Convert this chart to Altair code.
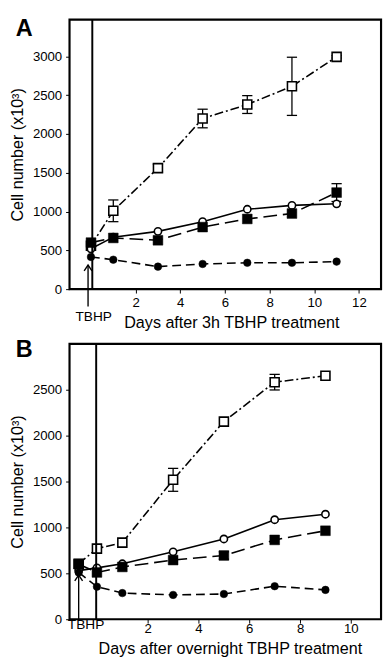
import altair as alt
import pandas as pd

# ---------------- data ----------------
a_days = [0, 1, 3, 5, 7, 9, 11]
a_open_sq = [560, 1010, 1560, 2200, 2380, 2615, 2995]
a_open_sq_err = [0, 140, 50, 120, 115, 375, 15]
a_open_circ = [520, 670, 745, 870, 1030, 1080, 1100]
a_open_circ_err = [0, 0, 0, 0, 0, 0, 0]
a_fill_sq = [600, 660, 630, 800, 905, 975, 1245]
a_fill_sq_err = [0, 0, 0, 0, 0, 0, 115]
a_fill_circ = [415, 380, 290, 325, 340, 340, 355]
a_fill_circ_err = [0, 0, 0, 0, 0, 0, 0]

b_days = [-0.72, 0, 1, 3, 5, 7, 9]
b_open_sq = [605, 770, 835, 1520, 2155, 2585, 2655]
b_open_sq_err = [0, 0, 0, 125, 0, 85, 0]
b_open_circ = [530, 560, 605, 735, 875, 1085, 1145]
b_open_circ_err = [0, 0, 0, 0, 0, 0, 0]
b_fill_sq = [600, 510, 570, 645, 695, 865, 965]
b_fill_sq_err = [0, 0, 0, 0, 40, 0, 0]
b_fill_circ = [510, 355, 285, 265, 275, 360, 320]
b_fill_circ_err = [0, 0, 0, 0, 0, 0, 0]

a_xticks = [2, 4, 6, 8, 10, 12]
b_xticks = [2, 4, 6, 8, 10]
a_yticks = [0, 500, 1000, 1500, 2000, 2500, 3000]
b_yticks = [0, 500, 1000, 1500, 2000, 2500]

FONT = "Liberation Sans"

STYLES = [
    # (shape, filled, size, dash)
    ("square", False, 85, [9, 3, 2, 3]),
    ("circle", False, 55, None),
    ("square", True, 100, [14, 6]),
    ("circle", True, 60, [9, 5]),
]


def panel(days, series, errs, xdom, ydom, height, xticks, yticks,
          xtitle, tx, ty, letter, letter_y, vline_x, arrow_x, arrow_top,
          arrow_bottom, tbhp_x, tbhp_y, xlabpad):
    xaxis = alt.Axis(values=xticks, format="d", grid=False, domain=False,
                     ticks=True, tickSize=4, tickColor="black",
                     labelPadding=xlabpad, labelFontSize=13.5,
                     labelColor="black", labelFont=FONT,
                     title=xtitle, titleFont=FONT, titleFontSize=16.5,
                     titleFontWeight="normal", titleColor="black",
                     titleX=tx, titleY=ty, titleAlign="center",
                     titleBaseline="alphabetic", titleAnchor="start")
    yaxis = alt.Axis(values=yticks, format="d", grid=False, domain=False,
                     ticks=True, tickSize=4, tickColor="black",
                     labelPadding=4, labelFontSize=13.5, labelColor="black",
                     labelFont=FONT, title="Cell number (x10³)",
                     titleFont=FONT, titleFontSize=16.5,
                     titleFontWeight="normal", titleColor="black",
                     titleX=-53, titleBaseline="middle")
    xs = alt.Scale(domain=xdom, nice=False, zero=False)
    ys = alt.Scale(domain=ydom, nice=False, zero=False)

    def X(f):
        return alt.X(f, type="quantitative", scale=xs, axis=xaxis)

    def Y(f):
        return alt.Y(f, type="quantitative", scale=ys, axis=yaxis)

    layers = []
    for (shape, filled, size, dash), vals, err in zip(STYLES, series, errs):
        df = pd.DataFrame({"x": days, "y": vals, "e": err})
        df["lo"] = df["y"] - df["e"]
        df["hi"] = df["y"] + df["e"]
        base = alt.Chart(df)
        lk = dict(color="black", strokeWidth=1.6)
        if dash:
            lk["strokeDash"] = dash
        layers.append(base.mark_line(**lk).encode(x=X("x"), y=Y("y")))
        edf = df[df["e"] > 0]
        if len(edf):
            eb = alt.Chart(edf)
            layers.append(eb.mark_rule(color="black", strokeWidth=1.3)
                          .encode(x=X("x"), y=Y("lo"), y2="hi"))
            for f in ("lo", "hi"):
                layers.append(eb.mark_point(shape="M-1,0L1,0", size=110,
                                            filled=False, color="black",
                                            strokeWidth=1.3, opacity=1)
                              .encode(x=X("x"), y=Y(f)))
    for (shape, filled, size, dash), vals in zip(STYLES, series):
        df = pd.DataFrame({"x": days, "y": vals})
        layers.append(alt.Chart(df).mark_point(
            shape=shape, size=size, filled=True,
            fill="black" if filled else "white", stroke="black",
            strokeWidth=1.6 if not filled else 0.5, opacity=1)
            .encode(x=X("x"), y=Y("y")))

    # vertical line at treatment end
    layers.append(alt.Chart().mark_rule(color="black", strokeWidth=2)
                  .encode(x=alt.datum(vline_x)))
    # arrow
    layers.append(alt.Chart().mark_rule(color="black", strokeWidth=1.4)
                  .encode(x=alt.datum(arrow_x), y=alt.datum(arrow_top),
                          y2=alt.datum(arrow_bottom)))
    layers.append(alt.Chart().mark_point(shape="M-1,1.5L0,0L1,1.5",
                                         size=64, filled=False,
                                         color="black", strokeWidth=1.4,
                                         opacity=1)
                  .encode(x=alt.datum(arrow_x), y=alt.datum(arrow_top)))
    # TBHP label
    layers.append(alt.Chart().mark_text(text="TBHP", font=FONT, fontSize=14,
                                        color="black", align="center",
                                        baseline="alphabetic")
                  .encode(x=alt.datum(tbhp_x), y=alt.datum(tbhp_y)))
    # panel letter
    layers.append(alt.Chart().mark_text(text=letter, font=FONT, fontSize=24,
                                        fontWeight="bold", color="black",
                                        align="left", baseline="alphabetic")
                  .encode(x=alt.value(-55), y=alt.value(letter_y)))
    return alt.layer(*layers).properties(
        width=319, height=height,
        view=alt.ViewBackground(stroke="black", strokeWidth=2.2, fill="white"))


chart_a = panel(a_days,
                [a_open_sq, a_open_circ, a_fill_sq, a_fill_circ],
                [a_open_sq_err, a_open_circ_err, a_fill_sq_err, a_fill_circ_err],
                [-0.96, 12.99], [0, 3475], 276, a_xticks, a_yticks,
                "Days after 3h TBHP treatment", 165.7, 39.5,
                "A", 17, 0.06, -0.13, 311, -223, 0.12, -412, 3)

chart_b = panel(b_days,
                [b_open_sq, b_open_circ, b_fill_sq, b_fill_circ],
                [b_open_sq_err, b_open_circ_err, b_fill_sq_err, b_fill_circ_err],
                [-1.08, 11.19], [0, 3003], 282, b_xticks, b_yticks,
                "Days after overnight TBHP treatment", 164.2, 34.7,
                "B", 13, -0.03, -0.72, 482, 0, -0.43, -110, -1)

chart = alt.vconcat(chart_a, chart_b, spacing=56, bounds="flush").properties(
    padding=0
).configure_view(stroke="black", strokeWidth=2.2).configure(
    background="white"
)

chart.save("out.html", embed_options={"renderer": "svg", "actions": False})
